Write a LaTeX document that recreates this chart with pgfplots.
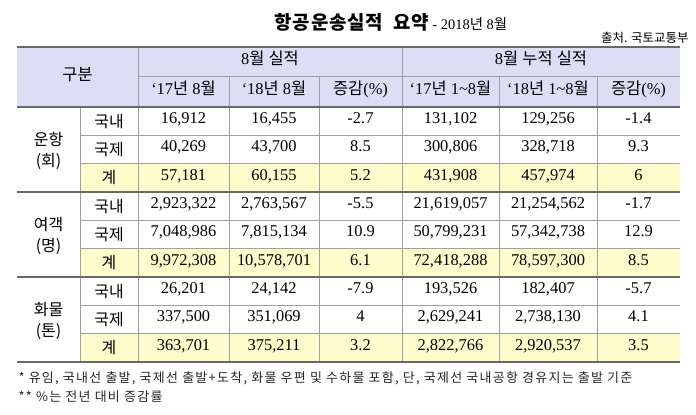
\documentclass[border=0pt]{standalone}
\usepackage{fontspec}
\usepackage{pgfplots}
\usepackage{pgfplotstable}
\pgfplotsset{compat=1.18}
\setmainfont{Liberation Serif}
\newfontfamily\kr{Noto Sans CJK KR}
\newfontfamily\krsp{Noto Sans CJK KR}[LetterSpace=10]
\newfontfamily\krti{Noto Sans CJK KR}[LetterSpace=4]
\definecolor{hdr}{RGB}{221,221,246}
\definecolor{tot}{RGB}{255,252,204}
\definecolor{ln}{RGB}{160,160,160}
\definecolor{dk}{RGB}{105,105,105}
\newcommand{\K}[1]{{\kr #1}}

% rows: y-centre, then the six figures
\pgfplotstableread{
y a b c d e f
121.17 16,912 16,455 -2.7 131,102 129,256 -1.4
149.50 40,269 43,700 8.5 300,806 328,718 9.3
177.83 57,181 60,155 5.2 431,908 457,974 6
206.17 2,923,322 2,763,567 -5.5 21,619,057 21,254,562 -1.7
234.50 7,048,986 7,815,134 10.9 50,799,231 57,342,738 12.9
262.83 9,972,308 10,578,701 6.1 72,418,288 78,597,300 8.5
291.17 26,201 24,142 -7.9 193,526 182,407 -5.7
319.50 337,500 351,069 4 2,629,241 2,738,130 4.1
347.83 363,701 375,211 3.2 2,822,766 2,920,537 3.5
}\tbl

\pgfplotsset{cellnum/.style={only marks, mark=*, mark size=0pt,
  mark options={draw=none,fill=none},
  nodes near coords, point meta=explicit symbolic,
  nodes near coords style={font=\fontsize{16.5}{18}\selectfont, anchor=mid, inner sep=0pt, text=black}}}

\begin{document}
\begin{tikzpicture}
\begin{axis}[scale only axis, width=696bp, height=415bp,
  xmin=0, xmax=696, ymin=0, ymax=415, y dir=reverse,
  hide axis, clip=false]
% background
\fill[white] (0,0) rectangle (696,415);
% fills
\fill[hdr] (17,47) rectangle (680,107);
\fill[tot] (80,163.67) rectangle (680,192);
\fill[tot] (80,248.67) rectangle (680,277);
\fill[tot] (80,333.67) rectangle (680,362);
% thin horizontal lines
\draw[ln, line width=0.8bp] (80,135.33) -- (680,135.33);
\draw[ln, line width=0.8bp] (80,163.67) -- (680,163.67);
\draw[ln, line width=0.8bp] (80,220.33) -- (680,220.33);
\draw[ln, line width=0.8bp] (80,248.67) -- (680,248.67);
\draw[ln, line width=0.8bp] (80,305.33) -- (680,305.33);
\draw[ln, line width=0.8bp] (80,333.67) -- (680,333.67);
\draw[ln, line width=0.8bp] (138,76) -- (680,76);
% vertical lines
\draw[ln, line width=0.8bp] (80,107) -- (80,362);
\draw[ln, line width=0.8bp] (138,47) -- (138,362);
\draw[ln, line width=0.8bp] (402,47) -- (402,362);
\draw[ln, line width=0.8bp] (229,76) -- (229,362);
\draw[ln, line width=0.8bp] (319,76) -- (319,362);
\draw[ln, line width=0.8bp] (499,76) -- (499,362);
\draw[ln, line width=0.8bp] (597,76) -- (597,362);
% strong horizontal lines
\draw[dk, line width=1.2bp] (17,192) -- (680,192);
\draw[dk, line width=1.2bp] (17,277) -- (680,277);
\draw[dk, line width=1.2bp] (17,362) -- (680,362);
\draw[dk, line width=1.6bp] (17,47) -- (680,47);
\draw[dk, line width=2bp] (17,107) -- (680,107);

% title, source
\node[anchor=base] at (391,30) {{\krti\fontsize{19}{21}\selectfont\bfseries 항공운송실적\ \ 요약}\fontsize{14.5}{16}\selectfont\ - 2018\K{년} 8\K{월}};
\node[anchor=base east, font=\kr\fontsize{12.5}{14}\selectfont] at (692,43) {출처. 국토교통부};

% header
\node[font=\fontsize{16.5}{18}\selectfont, anchor=mid] at (77.5,78) {\K{구분}};
\node[font=\fontsize{16.5}{18}\selectfont, anchor=mid] at (270,62) {8\K{월}\ \K{실적}};
\node[font=\fontsize{16.5}{18}\selectfont, anchor=mid] at (541,62) {8\K{월}\ \K{누적}\ \K{실적}};
\node[font=\fontsize{16.5}{18}\selectfont, anchor=mid] at (183.5,92) {‘17\K{년} 8\K{월}};
\node[font=\fontsize{16.5}{18}\selectfont, anchor=mid] at (274,92) {‘18\K{년} 8\K{월}};
\node[font=\fontsize{16.5}{18}\selectfont, anchor=mid] at (360.5,92) {\K{증감}(\%)};
\node[font=\fontsize{16.5}{18}\selectfont, anchor=mid] at (450.5,92) {‘17\K{년} 1\textasciitilde8\K{월}};
\node[font=\fontsize{16.5}{18}\selectfont, anchor=mid] at (548,92) {‘18\K{년} 1\textasciitilde8\K{월}};
\node[font=\fontsize{16.5}{18}\selectfont, anchor=mid] at (638.5,92) {\K{증감}(\%)};
% group labels
\node[align=center, font=\kr\fontsize{16}{21}\selectfont] at (48.5,151) {운항\\(회)};
\node[align=center, font=\kr\fontsize{16}{21}\selectfont] at (48.5,236) {여객\\(명)};
\node[align=center, font=\kr\fontsize{16}{21}\selectfont] at (48.5,321) {화물\\(톤)};
% item labels
\node[font=\kr\fontsize{16}{18}\selectfont] at (109,121.17) {국내};
\node[font=\kr\fontsize{16}{18}\selectfont] at (109,149.5) {국제};
\node[font=\kr\fontsize{16}{18}\selectfont] at (109,177.83) {계};
\node[font=\kr\fontsize{16}{18}\selectfont] at (109,206.17) {국내};
\node[font=\kr\fontsize{16}{18}\selectfont] at (109,234.5) {국제};
\node[font=\kr\fontsize{16}{18}\selectfont] at (109,262.83) {계};
\node[font=\kr\fontsize{16}{18}\selectfont] at (109,291.17) {국내};
\node[font=\kr\fontsize{16}{18}\selectfont] at (109,319.5) {국제};
\node[font=\kr\fontsize{16}{18}\selectfont] at (109,347.83) {계};

% figures
\addplot[cellnum] table[x expr=183.5, y=y, meta=a] {\tbl};
\addplot[cellnum] table[x expr=274, y=y, meta=b] {\tbl};
\addplot[cellnum] table[x expr=360.5, y=y, meta=c] {\tbl};
\addplot[cellnum] table[x expr=450.5, y=y, meta=d] {\tbl};
\addplot[cellnum] table[x expr=548, y=y, meta=e] {\tbl};
\addplot[cellnum] table[x expr=638.5, y=y, meta=f] {\tbl};

% footnotes
\node[anchor=base west, font=\krsp\fontsize{13}{14}\selectfont, text=black!85] at (15,382) {* 유임, 국내선 출발, 국제선 출발+도착, 화물 우편 및 수하물 포함, 단, 국제선 국내공항 경유지는 출발 기준};
\node[anchor=base west, font=\krsp\fontsize{13}{14}\selectfont, text=black!85] at (15,401) {** \%는 전년 대비 증감률};
\end{axis}
\end{tikzpicture}
\end{document}
